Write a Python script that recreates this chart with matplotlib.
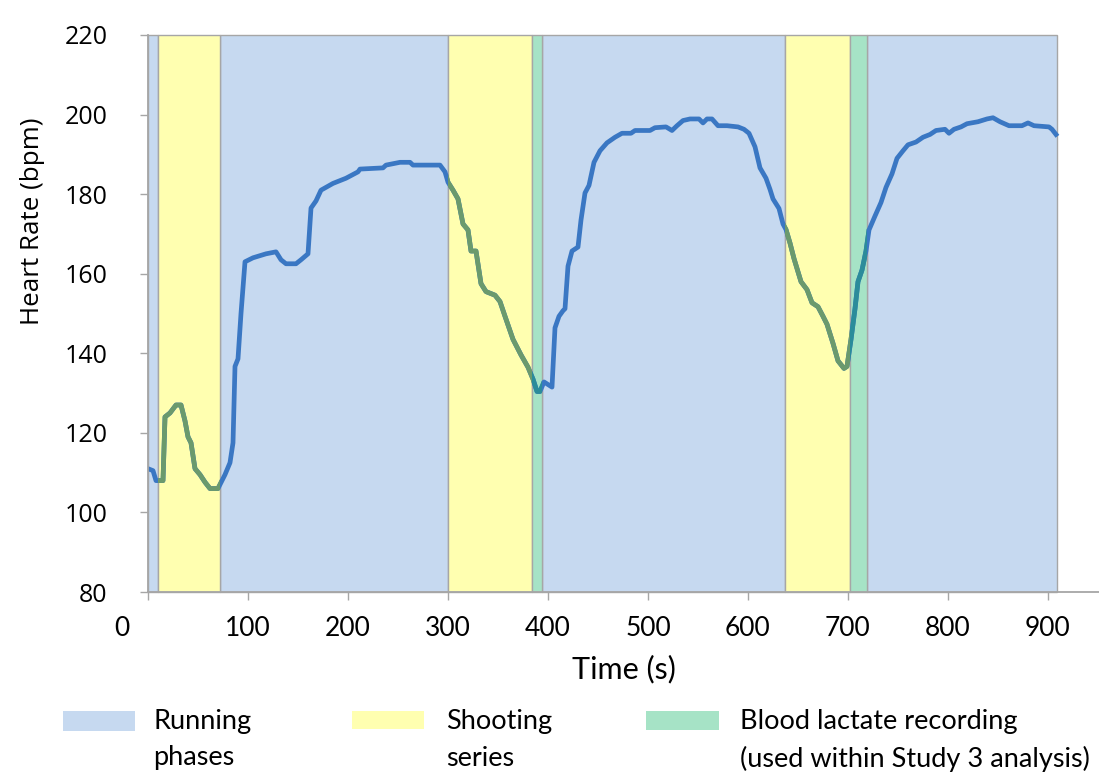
import matplotlib.pyplot as plt
from matplotlib.patches import Rectangle

# heart rate trace during the session (time in s, bpm)
time_s = [0, 5, 8, 15, 17, 22, 28, 33, 37, 40, 43, 47, 52, 57, 62, 70, 72, 77, 82, 85,
          87, 90, 93, 97, 105, 118, 128, 133, 138, 148, 153, 160, 163, 168, 173, 185,
          198, 210, 212, 235, 238, 252, 262, 265, 292, 297, 300, 305, 310, 315, 320,
          323, 328, 333, 338, 347, 352, 357, 365, 373, 380, 385, 389, 392, 396, 402,
          404, 407, 411, 415, 417, 420, 424, 430, 433, 437, 441, 446, 452, 459, 467,
          474, 483, 487, 502, 507, 518, 524, 529, 535, 542, 551, 555, 559, 564, 570,
          579, 590, 596, 601, 607, 612, 618, 622, 625, 631, 635, 638, 642, 646, 653,
          659, 664, 670, 675, 679, 685, 690, 696, 699, 703, 707, 710, 714, 718, 721,
          727, 733, 738, 744, 749, 755, 760, 768, 775, 782, 788, 797, 801, 806, 813,
          819, 830, 839, 845, 852, 861, 874, 880, 886, 901, 904, 908]
heart_rate = [111, 110.5, 108, 108, 124, 125, 127, 127, 123, 119, 117.5, 111, 109.5, 107.6,
              106, 106, 107, 109.5, 112.5, 117.5, 136.7, 138.6, 150, 163, 164, 165, 165.5,
              163.5, 162.5, 162.5, 163.5, 165, 176.5, 178.3, 181, 182.7, 184, 185.6, 186.3,
              186.6, 187.3, 188, 188, 187.3, 187.3, 185.6, 183, 181, 178.8, 172.5, 171,
              165.7, 165.7, 157.5, 155.5, 154.6, 153, 149.3, 143.5, 139.6, 136.5, 133.5,
              130.4, 130.4, 132.8, 131.8, 131.5, 146.4, 149.3, 150.7, 151.2, 161.9, 165.7,
              166.7, 173.5, 180.3, 182.2, 188, 190.9, 192.9, 194.3, 195.3, 195.3, 196, 196,
              196.7, 196.9, 196, 197.2, 198.5, 198.9, 198.9, 197.9, 198.9, 198.9, 197.2,
              197.2, 196.9, 196.3, 195.3, 191.9, 186.6, 184, 181.2, 178.8, 176.4, 172.5,
              171.1, 167.7, 163.8, 158, 156, 152.7, 151.7, 149.3, 147.3, 142.5, 138.1,
              136.2, 136.7, 143.5, 151.2, 158, 160.9, 165.7, 171, 174.5, 177.9, 181.7,
              185.1, 189, 190.9, 192.4, 193.1, 194.3, 195, 196, 196.3, 195.3, 196.3, 196.9,
              197.7, 198.2, 198.9, 199.2, 198.2, 197.2, 197.2, 197.9, 197.2, 196.9, 196.3, 195]

# phase boundaries (s)
running_phases = [(0, 10), (72, 300), (394, 637), (719, 909)]
shooting_series = [(10, 72), (300, 384), (637, 702)]
lactate_samples = [(384, 394), (702, 719)]

x_ticks = [0, 100, 200, 300, 400, 500, 600, 700, 800, 900]
y_ticks = [80, 100, 120, 140, 160, 180, 200, 220]

c_run, c_shoot, c_lac = '#c6d9f0', '#ffffb0', '#a6e3c6'
c_line, c_line_shoot, c_line_lac = '#3a77c3', '#6b9a6c', '#2b8c9a'
c_axis = '#a6a6a6'

fig = plt.figure(figsize=(10.99, 7.76), dpi=100)
ax = fig.add_axes([148 / 1099, 184 / 776, 951 / 1099, 557 / 776])

# background phases
for t0, t1 in running_phases:
    ax.axvspan(t0, t1, facecolor=c_run, edgecolor=c_axis, lw=1, zorder=0, clip_on=False)
shoot_spans = [ax.axvspan(t0, t1, facecolor=c_shoot, edgecolor=c_axis, lw=1, zorder=0,
                          clip_on=False) for t0, t1 in shooting_series]
lac_spans = [ax.axvspan(t0, t1, facecolor=c_lac, edgecolor=c_axis, lw=1, zorder=0,
                        clip_on=False) for t0, t1 in lactate_samples]

# heart rate line, recoloured inside shooting / lactate phases
ax.plot(time_s, heart_rate, color=c_line, lw=3.4, zorder=2, solid_joinstyle='round')
for span in shoot_spans:
    ln, = ax.plot(time_s, heart_rate, color=c_line_shoot, lw=3.4, zorder=3,
                  solid_joinstyle='round')
    ln.set_clip_path(span)
for span in lac_spans:
    ln, = ax.plot(time_s, heart_rate, color=c_line_lac, lw=3.4, zorder=3,
                  solid_joinstyle='round')
    ln.set_clip_path(span)

ax.set_xlim(0, 951)
ax.set_ylim(80, 220)
ax.set_facecolor('none')
for s in ['top', 'right']:
    ax.spines[s].set_visible(False)
for s in ['left', 'bottom']:
    ax.spines[s].set_color(c_axis)
    ax.spines[s].set_linewidth(1.3)

ax.set_yticks(y_ticks)
ax.set_yticklabels([str(v) for v in y_ticks], family='Open Sans', fontsize=18)
ax.tick_params(axis='y', direction='out', length=6, width=1, color=c_axis, pad=23)

ax.set_xticks(x_ticks)
ax.set_xticklabels([''] + [str(v) for v in x_ticks[1:]], family='Lato', fontsize=19)
ax.tick_params(axis='x', direction='out', length=6, width=1, color=c_axis, pad=11)
# the zero label sits left of its tick
ax.annotate(str(x_ticks[0]), xy=(x_ticks[0], 0), xycoords=('data', 'axes fraction'),
            xytext=(-19, -17), textcoords='offset points', ha='center', va='top',
            family='Lato', fontsize=19)

ax.set_xlabel('Time (s)', family='Lato', fontsize=22)
ax.xaxis.set_label_coords(0.5, -0.112)
ax.set_ylabel('Heart Rate (bpm)', family='Open Sans', fontsize=18.7)
ax.yaxis.set_label_coords(-0.108, 0.665)

# legend below the chart
legend_items = [(0.63, 0.45, 0.72, 0.20, c_run, 1.53, 'Running\nphases'),
                (3.52, 0.47, 0.72, 0.18, c_shoot, 4.46, 'Shooting\nseries'),
                (6.46, 0.46, 0.73, 0.19, c_lac, 7.40,
                 'Blood lactate recording\n(used within Study 3 analysis)')]
for x0, y0, w, h, col, tx, label in legend_items:
    fig.add_artist(Rectangle((x0, y0), w, h, facecolor=col, edgecolor='none',
                             transform=fig.dpi_scale_trans))
    fig.text(tx, 0.665, label, transform=fig.dpi_scale_trans, ha='left', va='top',
             family='Lato', fontsize=19.5, linespacing=1.55)

fig.savefig('out.png', dpi=100)
